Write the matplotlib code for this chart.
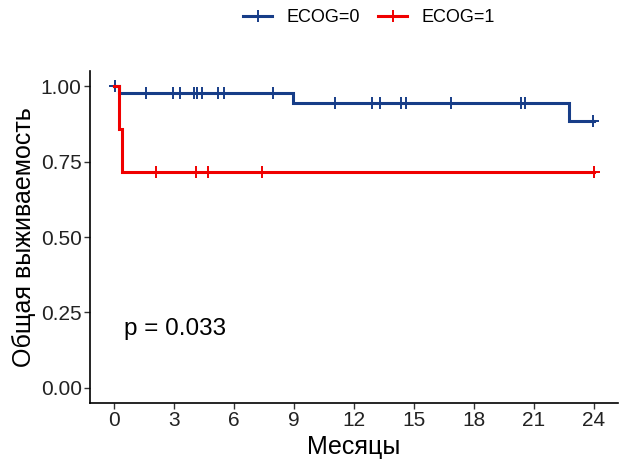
import matplotlib.pyplot as plt
import numpy as np
from matplotlib.lines import Line2D

plt.rcParams["font.family"] = ["Liberation Sans", "DejaVu Sans"]

# Kaplan-Meier steps (time, survival after step) and censor times
blue_t = [0.0, 0.25, 8.97, 22.75]
blue_s = [1.0, 0.976, 0.943, 0.884]
blue_cens = [0.05, 1.6, 2.97, 3.3, 4.0, 4.17, 4.38, 5.2, 5.5, 7.97, 11.05,
             12.93, 13.33, 14.35, 14.6, 16.85, 20.38, 20.55, 23.97]
red_t = [0.0, 0.27, 0.38]
red_s = [1.0, 0.857, 0.714]
red_cens = [2.08, 4.1, 4.68, 7.42, 24.0]

t_end = 24
labels = ["ECOG=0", "ECOG=1"]
colors = ["#173D88", "#F00000"]
pval = "p = 0.033"

fig = plt.figure(figsize=(6.31, 4.61), dpi=100)
ax = fig.add_axes([0.1426, 0.1258, 0.979 - 0.1426, 0.846 - 0.1258])


def km(ax, t, s, cens, col):
    tt = list(t) + [t_end]
    ss = list(s) + [s[-1]]
    ax.step(tt, ss, where="post", color=col, lw=2.2, solid_joinstyle="miter")
    idx = np.searchsorted(t, cens, side="right") - 1
    ax.plot(cens, np.array(s)[idx], ls="none", marker="+", ms=8, mew=1.4,
            color=col)


km(ax, blue_t, blue_s, blue_cens, colors[0])
km(ax, red_t, red_s, red_cens, colors[1])

ax.set_xlim(-1.2, 25.2)
ax.set_ylim(-0.05, 1.05)
ax.set_xticks(np.arange(0, 25, 3))
ax.set_yticks([0, 0.25, 0.5, 0.75, 1.0])
ax.set_yticklabels(["0.00", "0.25", "0.50", "0.75", "1.00"])
ax.tick_params(labelsize=15, length=4, width=1, color="#333333",
               labelcolor="#222222", pad=2)
for side in ["top", "right"]:
    ax.spines[side].set_visible(False)
for side in ["left", "bottom"]:
    ax.spines[side].set_linewidth(1.2)
ax.set_xlabel("Месяцы", fontsize=18, labelpad=3)
ax.set_ylabel("Общая выживаемость", fontsize=18, labelpad=3)

ax.text(0.5, 0.195, pval, fontsize=17.5, va="center", ha="left")

handles = [Line2D([], [], color=c, lw=2.2, marker="+", ms=8, mew=1.4)
           for c in colors]
fig.legend(handles, labels, loc="center", bbox_to_anchor=(0.585, 0.962),
           ncol=2, frameon=False, fontsize=13, handlelength=1.6,
           columnspacing=1.0, handletextpad=0.8)

fig.savefig("out.png", dpi=100, facecolor="white")
